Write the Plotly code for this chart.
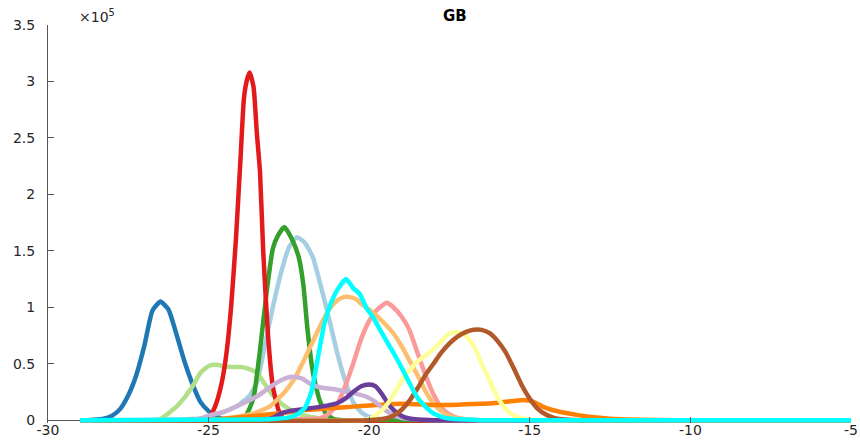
import plotly.graph_objects as go

# ---- data (y values in units of 1e5) ----
X_START, X_END = -29, -5

light_blue_x = [-25.0, -24.66, -24.14, -23.75, -23.5, -23.25, -23.0, -22.75, -22.5, -22.25, -22.0, -21.75, -21.5, -21.25, -21.0, -20.75, -20.5, -20.25, -20.0, -19.5, -19.0]
light_blue_y = [0.02, 0.06, 0.12, 0.21, 0.33, 0.66, 1.0, 1.3, 1.53, 1.62, 1.57, 1.44, 1.18, 0.9, 0.6, 0.35, 0.16, 0.07, 0.03, 0.005, 0.0]

dark_blue_x = [-28.75, -28.3, -28.0, -27.75, -27.5, -27.25, -27.0, -26.75, -26.5, -26.25, -26.0, -25.75, -25.5, -25.25, -25.0, -24.75, -24.5, -24.0]
dark_blue_y = [0.0, 0.01, 0.04, 0.1, 0.22, 0.4, 0.66, 0.97, 1.05, 0.98, 0.76, 0.52, 0.32, 0.16, 0.08, 0.03, 0.01, 0.0]

light_green_x = [-26.75, -26.5, -26.0, -25.75, -25.5, -25.25, -25.0, -24.75, -24.5, -24.25, -24.0, -23.75, -23.5, -23.25, -23.0, -22.75, -22.5, -22.25, -22.0, -21.5, -21.0]
light_green_y = [0.0, 0.01, 0.12, 0.2, 0.3, 0.42, 0.48, 0.49, 0.475, 0.47, 0.47, 0.455, 0.42, 0.32, 0.22, 0.15, 0.1, 0.06, 0.04, 0.015, 0.0]

green_x = [-24.0, -23.8, -23.6, -23.4, -23.2, -23.0, -22.85, -22.64, -22.4, -22.2, -22.05, -21.92, -21.75, -21.55, -21.35, -21.1, -20.8]
green_y = [0.0, 0.06, 0.2, 0.62, 1.12, 1.52, 1.63, 1.71, 1.6, 1.45, 1.2, 0.8, 0.42, 0.18, 0.06, 0.01, 0.0]

pink_x = [-21.5, -21.25, -21.0, -20.75, -20.5, -20.25, -20.0, -19.75, -19.45, -19.25, -19.0, -18.75, -18.5, -18.25, -18.0, -17.75, -17.5, -17.25, -16.75]
pink_y = [0.02, 0.06, 0.14, 0.3, 0.5, 0.72, 0.88, 0.98, 1.04, 1.0, 0.92, 0.8, 0.6, 0.4, 0.23, 0.11, 0.05, 0.02, 0.0]

red_x = [-25.0, -24.8, -24.6, -24.45, -24.3, -24.15, -24.0, -23.9, -23.8, -23.72, -23.6, -23.5, -23.4, -23.3, -23.15, -23.0, -22.8, -22.6]
red_y = [0.02, 0.12, 0.32, 0.58, 1.0, 1.6, 2.35, 2.85, 3.02, 3.08, 2.95, 2.55, 2.2, 1.5, 0.75, 0.3, 0.07, 0.0]

light_orange_x = [-25.0, -24.5, -24.0, -23.6, -23.1, -22.8, -22.6, -22.3, -22.0, -21.75, -21.5, -21.25, -21.0, -20.8, -20.6, -20.4, -20.2, -20.0, -19.75, -19.5, -19.25, -19.0, -18.75, -18.5, -18.25, -18.0, -17.75, -17.5, -17.0, -16.5]
light_orange_y = [0.0, 0.015, 0.035, 0.06, 0.12, 0.2, 0.26, 0.38, 0.55, 0.7, 0.85, 0.98, 1.06, 1.09, 1.09, 1.07, 1.02, 0.98, 0.92, 0.85, 0.77, 0.66, 0.53, 0.4, 0.26, 0.15, 0.08, 0.035, 0.008, 0.0]

orange_x = [-26.0, -25.0, -24.5, -24.0, -23.5, -23.0, -22.5, -22.0, -21.5, -21.0, -20.5, -20.0, -19.5, -19.0, -18.5, -18.0, -17.5, -17.0, -16.5, -16.0, -15.5, -15.2, -14.9, -14.6, -14.3, -14.0, -13.5, -13.0, -12.5, -12.0, -11.0, -10.0]
orange_y = [0.0, 0.005, 0.012, 0.025, 0.04, 0.055, 0.07, 0.09, 0.1, 0.11, 0.12, 0.13, 0.14, 0.145, 0.14, 0.135, 0.135, 0.14, 0.145, 0.155, 0.17, 0.178, 0.165, 0.12, 0.09, 0.07, 0.045, 0.025, 0.012, 0.006, 0.001, 0.0]

light_purple_x = [-25.5, -25.25, -25.0, -24.5, -24.0, -23.5, -23.0, -22.7, -22.4, -22.1, -21.8, -21.5, -21.0, -20.5, -20.1, -19.8, -19.6, -19.4, -19.2, -19.0, -18.5, -18.0]
light_purple_y = [0.0, 0.015, 0.04, 0.075, 0.14, 0.21, 0.31, 0.36, 0.385, 0.37, 0.315, 0.29, 0.27, 0.24, 0.21, 0.16, 0.11, 0.07, 0.04, 0.02, 0.005, 0.0]

dark_purple_x = [-23.5, -23.0, -22.75, -22.5, -22.25, -22.0, -21.5, -21.0, -20.75, -20.5, -20.25, -20.0, -19.8, -19.6, -19.4, -19.2, -19.0, -18.75, -18.5, -18.0]
dark_purple_y = [0.0, 0.02, 0.06, 0.08, 0.09, 0.1, 0.12, 0.15, 0.19, 0.25, 0.3, 0.315, 0.3, 0.23, 0.14, 0.08, 0.04, 0.015, 0.005, 0.0]

yellow_x = [-20.25, -20.0, -19.75, -19.5, -19.25, -19.0, -18.75, -18.5, -18.25, -18.0, -17.75, -17.5, -17.25, -17.0, -16.75, -16.5, -16.25, -16.0, -15.75, -15.5, -15.25, -15.0, -14.5]
yellow_y = [0.0, 0.01, 0.05, 0.12, 0.22, 0.35, 0.44, 0.52, 0.57, 0.63, 0.7, 0.77, 0.78, 0.75, 0.66, 0.5, 0.35, 0.2, 0.1, 0.04, 0.015, 0.005, 0.0]

brown_x = [-20.0, -19.5, -19.25, -19.0, -18.75, -18.5, -18.25, -18.0, -17.75, -17.5, -17.25, -17.0, -16.75, -16.5, -16.25, -16.0, -15.75, -15.5, -15.25, -15.0, -14.75, -14.5, -14.25, -14.0, -13.5]
brown_y = [0.0, 0.015, 0.04, 0.09, 0.17, 0.28, 0.4, 0.5, 0.6, 0.68, 0.74, 0.78, 0.8, 0.8, 0.77, 0.7, 0.6, 0.46, 0.31, 0.19, 0.1, 0.05, 0.02, 0.008, 0.0]

cyan_x = [-23.5, -23.0, -22.5, -22.25, -22.0, -21.8, -21.6, -21.4, -21.2, -21.0, -20.72, -20.5, -20.3, -20.1, -19.9, -19.7, -19.5, -19.25, -19.0, -18.75, -18.5, -18.25, -18.0, -17.75, -17.5, -17.0, -16.5]
cyan_y = [0.005, 0.01, 0.025, 0.05, 0.11, 0.25, 0.55, 0.85, 1.03, 1.15, 1.25, 1.17, 1.12, 1.0, 0.92, 0.82, 0.72, 0.6, 0.47, 0.33, 0.2, 0.12, 0.06, 0.03, 0.015, 0.005, 0.0]

y_ticks = [0, 0.5, 1, 1.5, 2, 2.5, 3, 3.5]
y_tick_labels = ["0", "0.5", "1", "1.5", "2", "2.5", "3", "3.5"]
x_ticks = [-30, -25, -20, -15, -10, -5]
x_tick_labels = ["-30", "-25", "-20", "-15", "-10", "-5"]

series = [
    (light_blue_x, light_blue_y, "#a6cee3"),
    (dark_blue_x, dark_blue_y, "#1f78b4"),
    (light_green_x, light_green_y, "#b2df8a"),
    (green_x, green_y, "#33a02c"),
    (pink_x, pink_y, "#fb9a99"),
    (red_x, red_y, "#e31a1c"),
    (light_orange_x, light_orange_y, "#fdbf6f"),
    (orange_x, orange_y, "#ff7f00"),
    (light_purple_x, light_purple_y, "#cab2d6"),
    (dark_purple_x, dark_purple_y, "#6a3d9a"),
    (yellow_x, yellow_y, "#ffff99"),
    (brown_x, brown_y, "#b15928"),
    (cyan_x, cyan_y, "#00ffff"),
]

fig = go.Figure()
for xs, ys, col in series:
    fx = [X_START] + xs + [X_END]
    fy = [0.0] + ys + [0.0]
    fig.add_trace(go.Scatter(x=fx, y=fy, mode="lines",
                             line=dict(color=col, width=4.5, shape="spline", smoothing=0.5),
                             hoverinfo="skip", showlegend=False))

font = dict(family="DejaVu Sans, Arial, sans-serif", size=14, color="#262626")

fig.update_layout(
    width=860, height=442,
    margin=dict(l=48, r=9, t=25, b=19, autoexpand=False),
    paper_bgcolor="white", plot_bgcolor="white",
    font=font,
    showlegend=False,
    xaxis=dict(range=[-30, -5], tickvals=x_ticks, ticktext=x_tick_labels,
               ticks="inside", ticklen=6, tickcolor="#555555", tickwidth=1,
               showline=False, showgrid=False, zeroline=False, automargin=False,
               tickfont=font, ticklabeloverflow="allow", ticklabelstandoff=-3),
    yaxis=dict(range=[-0.025, 3.5], tickvals=y_ticks, ticktext=y_tick_labels,
               ticks="inside", ticklen=6, tickcolor="#555555", tickwidth=1,
               showline=True, linecolor="#555555", linewidth=1, automargin=False,
               showgrid=False, zeroline=True, zerolinecolor="#555555",
               zerolinewidth=1, tickfont=font, ticklabelstandoff=9,
               ticklabeloverflow="allow"),
    annotations=[
        dict(text="<b>GB</b>", xref="paper", yref="paper", x=0.507, y=1.0,
             yshift=9, xanchor="center", yanchor="middle", showarrow=False,
             font=dict(family="DejaVu Sans, Arial, sans-serif", size=15, color="#000000")),
        dict(text="×10<sup>5</sup>", xref="x", yref="paper", x=-30, y=1.0,
             xshift=29, yshift=-2, xanchor="left", yanchor="bottom", showarrow=False,
             font=dict(family="DejaVu Sans, Arial, sans-serif", size=14, color="#262626")),
    ],
)

fig.write_html("out.html", config={"displayModeBar": False},
               post_script="document.body.style.margin='0';document.body.style.padding='0';")
